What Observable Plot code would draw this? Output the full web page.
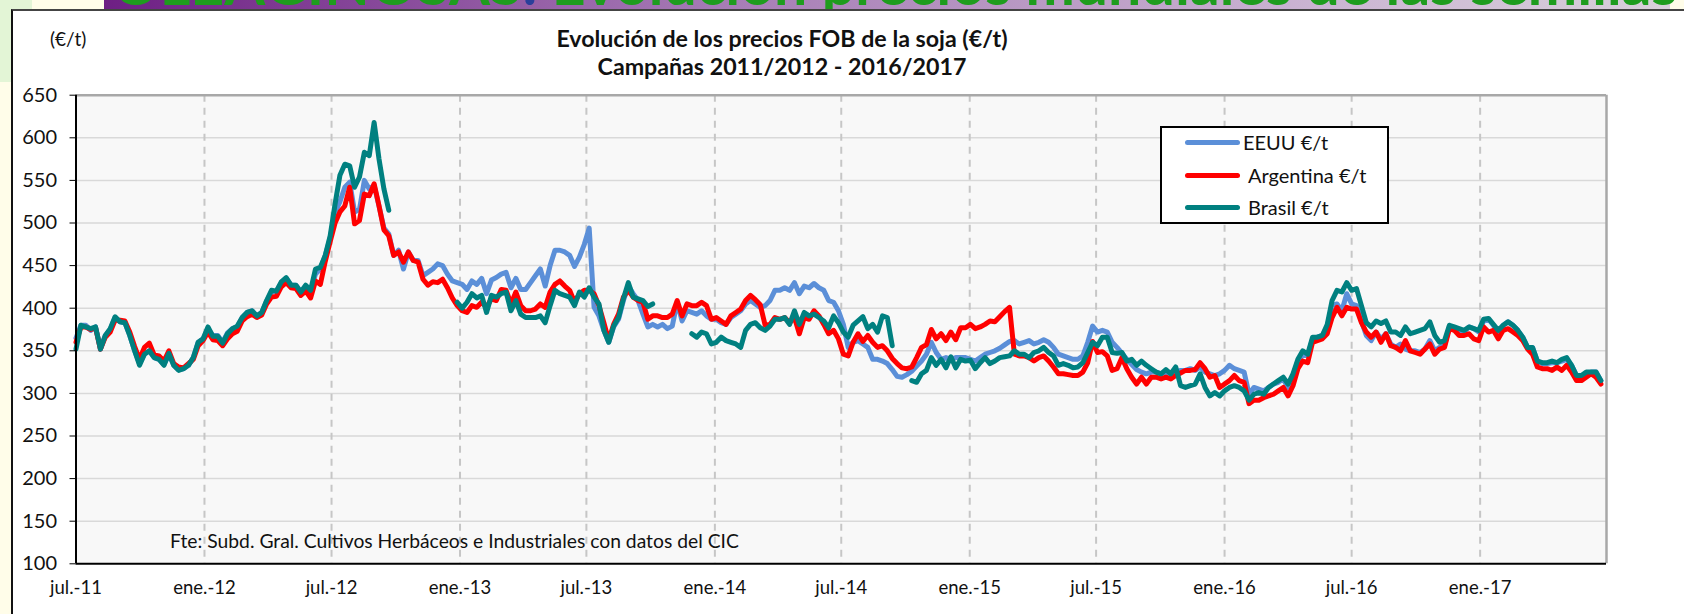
<!DOCTYPE html>
<html>
<head>
<meta charset="utf-8">
<script src="https://cdn.jsdelivr.net/npm/d3@7"></script>
<script src="https://cdn.jsdelivr.net/npm/@observablehq/plot@0.6"></script>
<style>
  html, body { margin: 0; padding: 0; background: #fffde9; }
  #page { position: relative; width: 1684px; height: 614px; overflow: hidden; background: #fffde9; font-family: Lato, "Open Sans", sans-serif; color: #111; }
  .abs { position: absolute; white-space: nowrap; }
  #chart svg { position: absolute; left: 0; top: 0; }
</style>
</head>
<body>
<div id="page">
  <div class="abs" style="left:0;top:0;width:32px;height:82px;background:#e3f5d6"></div>
  <div class="abs" style="left:104px;top:0;width:1566px;height:10px;background:linear-gradient(90deg,#6e1f84,#a77db6 40%,#cdb8d4 80%,#d8d0da)"></div>
  <div class="abs" style="left:112px;top:-46px;font-weight:bold;font-size:59px;line-height:58px;color:#1e9c1e;">OLEAGINOSAS<span style="color:#2a3f9a">:</span> Evolución precios mundiales de las semillas</div>
  <div class="abs" style="left:11px;top:9px;width:1673px;height:605px;background:#ffffff;border-left:2px solid #111;border-top:2px solid #444"></div>
  <div id="chart"></div>
  <div class="abs" style="left:0;width:1564px;top:24px;text-align:center;font-weight:bold;font-size:23.2px;line-height:28px;">Evolución de los precios FOB de la soja (€/t)<br>Campañas 2011/2012 - 2016/2017</div>
  <div class="abs" style="left:50px;top:28px;font-size:19px;line-height:22px;">(€/t)</div>
  <div class="abs" style="left:170px;top:530px;font-size:19.3px;line-height:22px;">Fte: Subd. Gral. Cultivos Herbáceos e Industriales con datos del CIC</div>
  <div id="legend" class="abs" style="left:1160px;top:126px;width:225px;height:94px;border:2px solid #000;background:#fff;"></div>
</div>
<script>
// Weekly FOB soybean prices (€/t), one value per week starting 1 July 2011
const usa = [365,380,380,374,378,352,368,375,389,384,
383,368,350,335,346,350,342,340,334,346,
333,328,329,333,342,360,364,376,368,368,
360,371,376,378,389,395,397,391,395,408,
419,420,430,435,427,427,419,426,420,440,
446,462,482,512,525,542,548,513,516,550,
540,544,520,494,487,462,468,446,466,456,
456,438,442,446,452,450,440,432,430,428,
422,432,428,435,417,433,436,440,442,424,
435,422,422,430,438,446,426,450,468,468,
466,462,449,460,475,494,401,391,374,360,
378,387,409,426,417,409,393,378,381,378,
381,376,379,407,385,397,395,393,397,391,
387,387,383,381,389,393,397,405,409,405,
401,403,409,421,421,424,421,430,417,426,
424,429,424,421,409,407,397,381,354,360,
362,358,354,340,340,338,335,328,320,319,
322,326,332,338,346,360,348,340,342,340,
342,342,342,340,338,342,346,348,350,353,
357,361,362,358,360,362,358,360,363,360,
354,346,344,342,340,340,344,360,379,372,
374,372,360,354,347,340,334,328,325,323,
325,325,323,325,323,325,327,327,329,327,
331,325,323,321,323,327,333,329,327,325,
299,307,305,303,307,311,313,317,307,321,
336,346,344,364,366,368,378,403,405,397,
417,405,403,385,368,362,372,364,370,358,
354,358,352,350,350,348,352,362,350,354,
356,378,376,374,372,378,376,372,385,387,
380,370,380,384,380,374,366,354,354,338,
335,335,336,336,338,340,333,321,319,323,
325,325,315];

const arg = [360,378,378,375,377,352,366,372,386,386,
385,372,355,340,354,359,345,344,338,350,
335,331,330,335,340,356,362,372,363,362,
356,364,370,373,385,390,393,389,392,405,
413,414,425,430,424,423,415,420,412,432,
428,455,478,500,513,520,542,499,503,534,
532,546,520,492,485,462,466,454,466,456,
454,434,427,431,430,434,424,412,403,397,
395,403,401,407,401,411,409,422,421,405,
419,403,397,397,399,405,401,419,428,432,
426,421,407,417,421,421,417,403,383,362,
381,393,413,421,413,409,407,387,391,391,
389,389,393,409,391,405,403,403,407,403,
387,389,385,381,391,395,399,409,415,410,
404,380,381,389,387,389,383,389,370,389,
387,397,391,381,370,374,364,346,344,360,
370,361,368,360,354,356,350,341,335,330,
329,331,342,354,357,375,364,370,362,372,
363,377,377,381,376,378,381,385,384,390,
396,401,346,344,344,342,338,342,344,338,
331,323,323,322,321,321,325,336,361,348,
349,344,327,329,342,329,319,311,319,311,
319,319,317,319,317,321,324,327,327,328,
336,329,319,321,307,311,315,321,315,313,
288,292,292,295,297,299,303,307,297,309,
329,338,336,360,362,364,370,389,401,391,
401,399,399,383,372,366,372,360,370,356,
354,350,362,350,348,346,352,358,346,352,
354,376,374,368,368,370,364,362,378,372,
374,364,374,376,372,368,362,352,346,331,
329,329,327,331,327,333,325,315,315,319,
323,319,311];

const bra = [352,380,378,376,378,352,368,376,390,384,
383,368,350,333,346,350,342,340,333,347,
333,327,329,333,342,360,364,378,367,367,
359,370,376,379,389,395,397,391,395,409,
421,420,431,436,427,427,419,427,421,446,
448,462,485,522,556,569,567,542,554,583,
579,618,575,540,515,null,null,null,null,null,
null,null,null,null,null,null,null,null,407,400,
407,417,412,415,395,415,413,417,419,397,
409,393,389,389,389,391,383,403,421,417,
415,413,403,419,413,424,413,405,374,360,
379,389,411,430,413,411,409,402,405,null,
null,null,null,null,null,null,370,366,372,370,
358,360,366,362,360,358,354,374,381,383,
377,374,379,387,387,389,381,397,381,395,
391,393,389,385,377,391,383,372,366,380,
385,390,376,381,372,391,389,356,null,null,
null,315,313,323,327,342,333,340,330,343,
330,340,338,339,329,336,342,335,338,342,
343,344,350,346,346,342,348,350,354,348,
344,333,335,333,330,331,336,348,360,356,
366,366,348,347,348,338,340,333,338,333,
329,325,323,328,323,331,309,307,309,311,
323,307,297,301,297,303,307,309,307,303,
292,299,301,299,307,311,315,319,311,323,
340,350,346,366,366,368,381,409,421,419,
430,421,423,403,383,378,385,382,385,372,
372,368,378,370,372,374,376,384,368,360,
362,380,378,376,374,378,376,374,387,388,
381,374,380,384,380,374,366,354,354,338,
336,336,338,336,340,342,333,321,321,325,
325,325,315];

const seriesNames = ["EEUU €/t", "Argentina €/t", "Brasil €/t"];
const seriesColors = ["#5b8fd8", "#ff0000", "#008080"];
const yTicks = [100, 150, 200, 250, 300, 350, 400, 450, 500, 550, 600, 650];
const xTickMonths = ["2011-07","2012-01","2012-07","2013-01","2013-07","2014-01","2014-07","2015-01","2015-07","2016-01","2016-07","2017-01"];
const xTickLabels = ["jul.-11","ene.-12","jul.-12","ene.-13","jul.-13","ene.-14","jul.-14","ene.-15","jul.-15","ene.-16","jul.-16","ene.-17"];

const start = Date.UTC(2011, 6, 1);
const end = Date.UTC(2017, 6, 1);
const weekDate = i => new Date(start + i * 7 * 864e5);
const xTicks = xTickMonths.map(s => new Date(s + "-01T00:00:00Z"));
const labelOf = new Map(xTicks.map((d, i) => [+d, xTickLabels[i]]));

const rows = d3.range(usa.length).map(i => ({date: weekDate(i), usa: usa[i], arg: arg[i], bra: bra[i]}));
const keys = ["usa", "arg", "bra"];

const chart = Plot.plot({
  width: 1684,
  height: 614,
  marginLeft: 75.5,
  marginRight: 78,
  marginTop: 94.7,
  marginBottom: 50.7,
  style: {background: "transparent", fontFamily: "Lato, 'Open Sans', sans-serif", color: "#111", overflow: "visible"},
  x: {type: "utc", domain: [new Date(start), new Date(end)]},
  y: {domain: [100, 650]},
  marks: [
    Plot.frame({fill: "#f8f8f8", stroke: null}),
    Plot.gridY(yTicks.slice(1), {stroke: "#d9d9d9", strokeOpacity: 1, strokeWidth: 1.5}),
    Plot.ruleX(xTicks.slice(1), {stroke: "#c6c6c6", strokeWidth: 2, strokeDasharray: "7,6"}),
    Plot.ruleY([650], {stroke: "#a8a8a8", strokeWidth: 2.5}),
    Plot.ruleX([new Date(end)], {stroke: "#a8a8a8", strokeWidth: 2.5}),
    ...keys.map((k, j) => Plot.line(rows, {x: "date", y: k, stroke: seriesColors[j], strokeWidth: 5, strokeLinejoin: "round", strokeLinecap: "round"})),
    Plot.ruleY([100], {stroke: "#000", strokeWidth: 2}),
    Plot.ruleX([new Date(start)], {stroke: "#000", strokeWidth: 2}),
    Plot.axisY(yTicks, {tickSize: 6, tickPadding: 13, fontSize: 20, stroke: "#000"}),
    Plot.axisX(xTicks, {tickSize: 0, tickPadding: 17, fontSize: 18.5, tickFormat: d => labelOf.get(+d)})
  ]
});
document.getElementById("chart").appendChild(chart);

// legend
const legend = document.getElementById("legend");
const rowY = [14, 47, 79];
const textX = [81, 86, 86];
seriesNames.forEach((name, j) => {
  const sw = document.createElement("div");
  sw.style.cssText = `position:absolute;left:23px;top:${rowY[j] - 2.5}px;width:55px;height:5px;border-radius:3px;background:${seriesColors[j]}`;
  legend.appendChild(sw);
  const t = document.createElement("div");
  t.textContent = name;
  t.style.cssText = `position:absolute;left:${textX[j]}px;top:${rowY[j] - 12}px;font-size:20px;line-height:24px;white-space:nowrap`;
  legend.appendChild(t);
});
</script>
</body>
</html>
